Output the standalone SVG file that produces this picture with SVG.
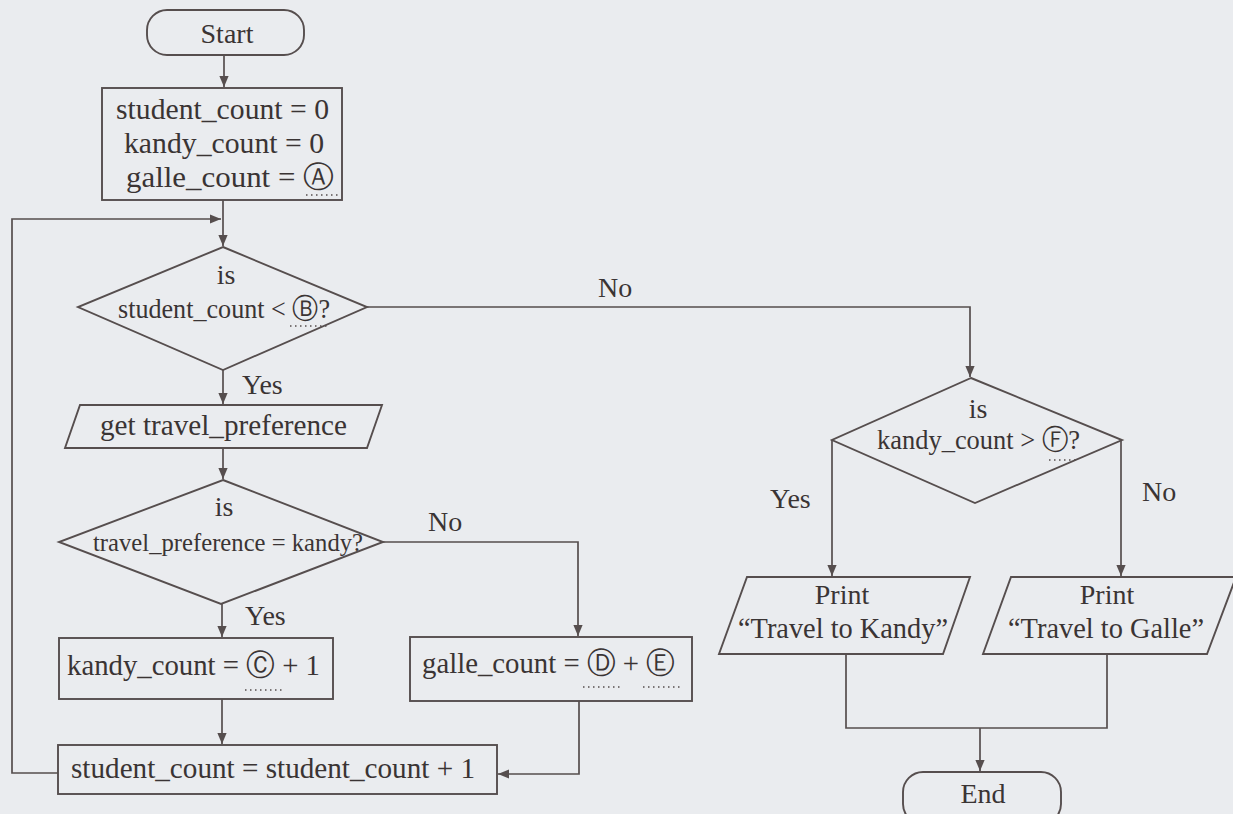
<svg xmlns="http://www.w3.org/2000/svg" width="1233" height="814" viewBox="0 0 1233 814">
<defs>
<style>
.bg{fill:#eaecef}
.shape{fill:none;stroke:#564e4e;stroke-width:1.9}
.line{fill:none;stroke:#564e4e;stroke-width:1.7}
.dots{stroke:#564e4e;stroke-width:1.7;stroke-dasharray:1.5 3.5}
text{font-family:"Liberation Serif","DejaVu Serif",serif;fill:#3a3434}
.t30{font-size:30px}
.t28{font-size:28px}
.t26{font-size:26px}
.lbl{font-size:28px}
.mid{text-anchor:middle}
</style>
<marker id="arr" viewBox="0 0 10 10" refX="10" refY="5" markerWidth="11" markerHeight="11" markerUnits="userSpaceOnUse" orient="auto">
<path d="M0,0.8 L10,5 L0,9.2 z" fill="#564e4e"/>
</marker>
</defs>
<rect class="bg" x="0" y="0" width="1233" height="814"/>

<g id="connectors">
<path class="line" d="M224,55 V87" marker-end="url(#arr)"/>
<path class="line" d="M223,200 V246" marker-end="url(#arr)"/>
<path class="line" d="M58,773 H12 V219 H221" marker-end="url(#arr)"/>
<path class="line" d="M223,370 V404" marker-end="url(#arr)"/>
<path class="line" d="M223,448 V479" marker-end="url(#arr)"/>
<path class="line" d="M222,604 V637" marker-end="url(#arr)"/>
<path class="line" d="M383,542 H578 V636" marker-end="url(#arr)"/>
<path class="line" d="M222,699 V744" marker-end="url(#arr)"/>
<path class="line" d="M579,701 V774 H498" marker-end="url(#arr)"/>
<path class="line" d="M367,307 H970 V377" marker-end="url(#arr)"/>
<path class="line" d="M832,440 V576" marker-end="url(#arr)"/>
<path class="line" d="M1121,440 V576" marker-end="url(#arr)"/>
<path class="line" d="M846,654 V728 H1107 V654"/>
<path class="line" d="M980,728 V771" marker-end="url(#arr)"/>
<text class="lbl" x="598" y="297">No</text>
<text class="lbl" x="242" y="394">Yes</text>
<text class="lbl" x="428" y="531">No</text>
<text class="lbl" x="245" y="625">Yes</text>
<text class="lbl" x="770" y="508">Yes</text>
<text class="lbl" x="1142" y="501">No</text>
</g>

<g id="start">
<rect class="shape" x="147" y="10" width="157" height="45" rx="20"/>
<text class="t28 mid" x="227" y="43">Start</text>
</g>

<g id="init">
<rect class="shape" x="102" y="88" width="240" height="112"/>
<text class="t30" x="116" y="119" textLength="213" lengthAdjust="spacingAndGlyphs">student_count = 0</text>
<text class="t30" x="124" y="153" textLength="200" lengthAdjust="spacingAndGlyphs">kandy_count = 0</text>
<text class="t30" x="126" y="187" textLength="208" lengthAdjust="spacingAndGlyphs">galle_count = Ⓐ</text>
<line class="dots" x1="306" y1="195" x2="339" y2="195"/>
</g>

<g id="cond_student">
<polygon class="shape" points="223,247 367,307 223,370 78,307"/>
<text class="t28 mid" x="226" y="284">is</text>
<text class="t28" x="118" y="318" textLength="212" lengthAdjust="spacingAndGlyphs">student_count &lt; Ⓑ?</text>
<line class="dots" x1="290" y1="326" x2="328" y2="326"/>
</g>

<g id="input_pref">
<polygon class="shape" points="80,405 382,405 367,448 65,448"/>
<text class="t30" x="100" y="435" textLength="247" lengthAdjust="spacingAndGlyphs">get travel_preference</text>
</g>

<g id="cond_pref">
<polygon class="shape" points="223,480 383,542 221,604 59,542"/>
<text class="t28 mid" x="224" y="516">is</text>
<text class="t26" x="93" y="551" textLength="270" lengthAdjust="spacingAndGlyphs">travel_preference = kandy?</text>
</g>

<g id="kandy_inc">
<rect class="shape" x="59" y="638" width="274" height="61"/>
<text class="t30" x="67" y="675" textLength="253" lengthAdjust="spacingAndGlyphs">kandy_count = Ⓒ + 1</text>
<line class="dots" x1="245" y1="690" x2="284" y2="690"/>
</g>

<g id="galle_inc">
<rect class="shape" x="410" y="637" width="282" height="64"/>
<text class="t30" x="422" y="673" textLength="253" lengthAdjust="spacingAndGlyphs">galle_count = Ⓓ + Ⓔ</text>
<line class="dots" x1="583" y1="687" x2="622" y2="687"/>
<line class="dots" x1="643" y1="687" x2="682" y2="687"/>
</g>

<g id="student_inc">
<rect class="shape" x="58" y="745" width="439" height="49"/>
<text class="t30" x="71" y="778" textLength="404" lengthAdjust="spacingAndGlyphs">student_count = student_count + 1</text>
</g>

<g id="cond_kandy">
<polygon class="shape" points="971,378 1122,440 975,503 832,440"/>
<text class="t28 mid" x="978" y="418">is</text>
<text class="t28" x="877" y="449" textLength="203" lengthAdjust="spacingAndGlyphs">kandy_count &gt; Ⓕ?</text>
<line class="dots" x1="1049" y1="460" x2="1076" y2="460"/>
</g>

<g id="print_kandy">
<polygon class="shape" points="747,577 970,577 943,654 719,654"/>
<text class="t28 mid" x="842" y="604">Print</text>
<text class="t30" x="738" y="638" textLength="210" lengthAdjust="spacingAndGlyphs">“Travel to Kandy”</text>
</g>

<g id="print_galle">
<polygon class="shape" points="1011,577 1236,577 1207,654 983,654"/>
<text class="t28 mid" x="1107" y="604">Print</text>
<text class="t30" x="1008" y="638" textLength="196" lengthAdjust="spacingAndGlyphs">“Travel to Galle”</text>
</g>

<g id="end">
<rect class="shape" x="903" y="772" width="158" height="52" rx="20"/>
<text class="t28 mid" x="983" y="803">End</text>
</g>
</svg>
